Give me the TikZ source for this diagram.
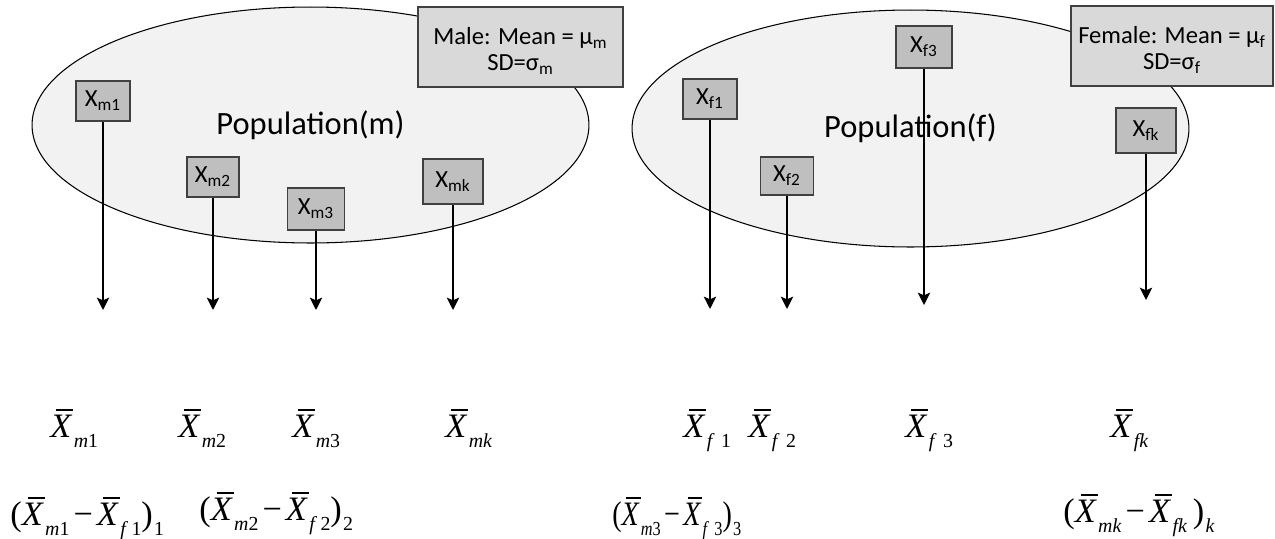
\documentclass[tikz,border=0pt]{standalone}
\usepackage{fontspec}
\usepackage{graphicx}
\setmainfont{Carlito}
\newfontfamily\tnr{Liberation Serif}
\usetikzlibrary{shapes.geometric,arrows.meta}
\definecolor{popfill}{HTML}{F2F2F2}
\definecolor{infofill}{HTML}{D9D9D9}
\definecolor{sfill}{HTML}{BFBFBF}
\definecolor{boxline}{HTML}{404040}
\newcommand\Xbar{\makebox[0pt][l]{\kern0.17em\raisebox{0.76em}{\rule{0.5em}{0.045em}}}\textit{X}}
\newcommand\sbs[1]{\kern0.04em\raisebox{-0.32em}{\scalebox{0.58}{#1}}}
\newcommand\mi[1]{\textit{#1}}
\newcommand\mns{\kern0.12em−\kern0.12em}
\begin{document}
\begin{tikzpicture}[x=0.02cm,y=-0.02cm,
  pop/.style={ellipse, draw=black, line width=0.6pt, fill=popfill, inner sep=0pt, font=\fontsize{18.5}{21}\selectfont},
  info/.style={draw=boxline, fill=infofill, line width=0.8pt, inner sep=0pt},
  infotxt/.style={align=center, inner sep=0pt, font=\fontsize{14}{15}\selectfont},
  sbox/.style={draw=boxline, fill=sfill, line width=0.8pt, inner sep=0pt, font=\fontsize{14}{15}\selectfont},
  arr/.style={-{Stealth[length=7pt,width=7pt,inset=1.5pt]}, line width=1.2pt},
  mexp/.style={anchor=base west, inner sep=0pt, font=\tnr\fontsize{19.5}{22}\selectfont}]
\useasboundingbox (0,0) rectangle (1275,538);
% populations
\node[pop, minimum width=11.14cm, minimum height=4.72cm] (popm) at (310.5,125) {Population(m)};
\node[pop, minimum width=11.14cm, minimum height=4.74cm] (popf) at (910.5,128.5) {Population(f)};
% parameter boxes
\node[info, minimum width=4.1cm, minimum height=1.6cm] (male) at (520.5,47) {};
\node[infotxt] (maletxt) at (520.5,51) {Male: Mean = μ\textsubscript{m}\\SD=σ\textsubscript{m}};
\node[info, minimum width=4.04cm, minimum height=1.6cm] (female) at (1172,46) {};
\node[infotxt] (femaletxt) at (1172,50) {Female: Mean = μ\textsubscript{f}\\SD=σ\textsubscript{f}};
% sample boxes
\node[sbox, minimum width=1.08cm, minimum height=0.8cm] (xm1) at (103,101) {X\textsubscript{m1}};
\node[sbox, minimum width=1.04cm, minimum height=0.8cm] (xm2) at (213,177) {X\textsubscript{m2}};
\node[sbox, minimum width=1.14cm, minimum height=0.84cm] (xm3) at (316,209) {X\textsubscript{m3}};
\node[sbox, minimum width=1.2cm, minimum height=0.9cm] (xmk) at (453,181.5) {X\textsubscript{mk}};
\node[sbox, minimum width=1.08cm, minimum height=0.8cm] (xf1) at (710,99) {X\textsubscript{f1}};
\node[sbox, minimum width=1.06cm, minimum height=0.76cm] (xf2) at (787,176) {X\textsubscript{f2}};
\node[sbox, minimum width=1.12cm, minimum height=0.84cm] (xf3) at (924,47) {X\textsubscript{f3}};
\node[sbox, minimum width=1.2cm, minimum height=0.9cm] (xfk) at (1146,130.5) {X\textsubscript{fk}};
% arrow ends
\coordinate (tm1) at (103,310);
\coordinate (tm2) at (213,310);
\coordinate (tm3) at (316,310);
\coordinate (tmk) at (453,310);
\coordinate (tf1) at (710,309);
\coordinate (tf2) at (787,309);
\coordinate (tf3) at (924,305);
\coordinate (tfk) at (1146,300);
\foreach \n in {m1,m2,m3,mk,f1,f2,f3,fk} {\draw[arr] (x\n) -- (t\n);}
% sample means
\node[mexp] (bm1) at (50,437) {\Xbar\sbs{\mi{m}1}};
\node[mexp] (bm2) at (178,437) {\Xbar\sbs{\mi{m}2}};
\node[mexp] (bm3) at (292,437) {\Xbar\sbs{\mi{m}3}};
\node[mexp] (bmk) at (445,437) {\Xbar\sbs{\mi{mk}}};
\node[mexp] (bf1) at (683,437) {\Xbar\sbs{\mi{f}\,\,1}};
\node[mexp] (bf2) at (748,437) {\Xbar\sbs{\mi{f}\,\,2}};
\node[mexp] (bf3) at (905,437) {\Xbar\sbs{\mi{f}\,\,3}};
\node[mexp] (bfk) at (1110,437) {\Xbar\sbs{\mi{fk}}};
% differences
\node[mexp] (d1) at (10,525) {(\Xbar\sbs{\mi{m}1}\mns\Xbar\sbs{\mi{f}\,1})\sbs{1}};
\node[mexp] (d2) at (199,520) {(\Xbar\sbs{\mi{m}2}\mns\Xbar\sbs{\mi{f}\,2})\sbs{2}};
\node[mexp] (d3) at (612,525) {\scalebox{0.82}[1]{(\Xbar\sbs{\mi{m}3}\mns\Xbar\sbs{\mi{f}\,\,3})\sbs{3}}};
\node[mexp] (dk) at (1063,522) {(\Xbar\sbs{\mi{mk}}\mns\Xbar\sbs{\mi{fk}}\,)\sbs{\mi{k}}};
\end{tikzpicture}
\end{document}
